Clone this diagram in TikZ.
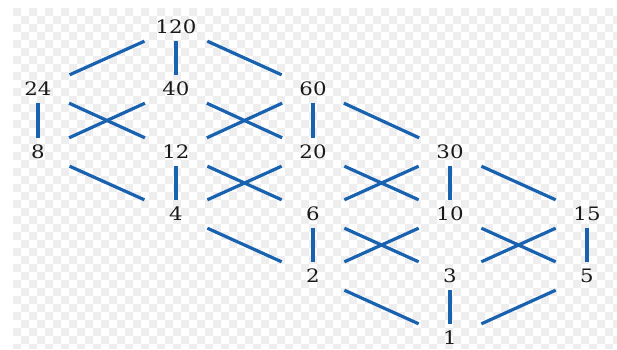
\documentclass[tikz,border=0pt]{standalone}
\usepackage{xcolor}
\usepackage{fontspec}
\newfontfamily\numfont[FakeStretch=1.15]{DejaVu Serif}
\definecolor{edgeblue}{RGB}{24,98,176}
\definecolor{checkgray}{RGB}{238,238,238}

\begin{document}
\begin{tikzpicture}[x=1pt, y=-1pt,
    every node/.style={font=\numfont\fontsize{18.5}{21}\selectfont, text=black!90},
    num/.style={rectangle, inner sep=0pt, minimum width=64pt, minimum height=28pt},
    link/.style={draw=edgeblue, line width=3.2pt}]
  \useasboundingbox (0,0) rectangle (617,349);
  % checkered backdrop
  \fill[white] (13,8) rectangle (617,349);
  \foreach \i in {0,...,75} {
    \foreach \j in {0,...,42} {
      \pgfmathtruncatemacro{\parity}{mod(\i+\j,2)}
      \ifnum\parity=0
        \fill[checkgray] ({13+8*\i},{8+8*\j}) rectangle ({min(617,21+8*\i)},{min(349,16+8*\j)});
      \fi
    }
  }
  % divisors
  \node[num] (n120) at (176,27) {120};
  \node[num] (n24) at (38,89) {24};
  \node[num] (n40) at (176,89) {40};
  \node[num] (n60) at (313,89) {60};
  \node[num] (n8) at (38,152) {8};
  \node[num] (n12) at (176,152) {12};
  \node[num] (n20) at (313,152) {20};
  \node[num] (n30) at (450,152) {30};
  \node[num] (n4) at (176,214) {4};
  \node[num] (n6) at (313,214) {6};
  \node[num] (n10) at (450,214) {10};
  \node[num] (n15) at (587,214) {15};
  \node[num] (n2) at (313,276) {2};
  \node[num] (n3) at (450,276) {3};
  \node[num] (n5) at (587,276) {5};
  \node[num] (n1) at (450,338) {1};
  % covering relations
  \foreach \a/\b in {120/24, 120/40, 120/60,
                     24/8, 24/12, 40/8, 40/20, 60/12, 60/20, 60/30,
                     8/4, 12/4, 12/6, 20/4, 20/10, 30/6, 30/10, 30/15,
                     4/2, 6/2, 6/3, 10/2, 10/5, 15/3, 15/5,
                     2/1, 3/1, 5/1}
    \draw[link] (n\a) -- (n\b);
\end{tikzpicture}
\end{document}
